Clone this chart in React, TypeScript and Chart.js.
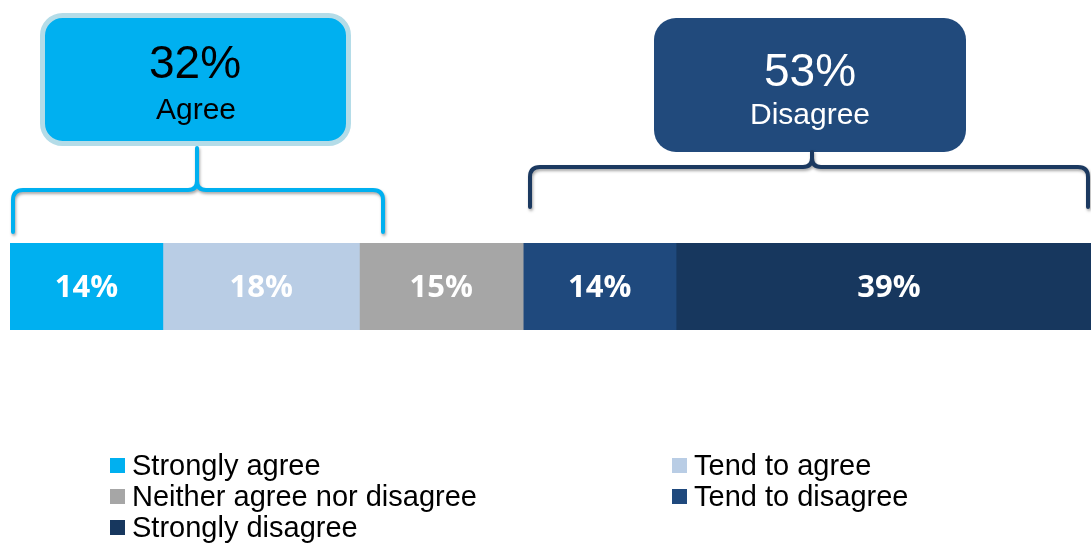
import React, { useEffect, useRef } from "react";
import { Chart, registerables } from "chart.js";

Chart.register(...registerables);

const categories = ["All respondents"];
const seriesLabels = [
  "Strongly agree",
  "Tend to agree",
  "Neither agree nor disagree",
  "Tend to disagree",
  "Strongly disagree",
];
const seriesValues = [14, 18, 15, 14, 39];
const seriesColors = ["#00B0F0", "#B9CDE5", "#A6A6A6", "#1F497D", "#17375E"];
const agreeTotal = 32;
const disagreeTotal = 53;
const calloutLabels = ["Agree", "Disagree"];

function drawBrace(
  ctx: CanvasRenderingContext2D,
  x1: number,
  x2: number,
  xm: number,
  yEnd: number,
  yH: number,
  yPeak: number,
  color: string
) {
  const r = 10;
  const rm = 9;
  ctx.save();
  ctx.strokeStyle = color;
  ctx.lineWidth = 4;
  ctx.lineCap = "round";
  ctx.lineJoin = "round";
  ctx.shadowColor = "rgba(0,0,0,0.35)";
  ctx.shadowBlur = 3;
  ctx.shadowOffsetX = 1;
  ctx.shadowOffsetY = 2;
  ctx.beginPath();
  ctx.moveTo(x1, yEnd);
  ctx.lineTo(x1, yH + r);
  ctx.quadraticCurveTo(x1, yH, x1 + r, yH);
  ctx.lineTo(xm - rm, yH);
  ctx.quadraticCurveTo(xm, yH, xm, yH - rm);
  ctx.lineTo(xm, yPeak);
  ctx.moveTo(xm, yH - rm);
  ctx.quadraticCurveTo(xm, yH, xm + rm, yH);
  ctx.lineTo(x2 - r, yH);
  ctx.quadraticCurveTo(x2, yH, x2, yH + r);
  ctx.lineTo(x2, yEnd);
  ctx.stroke();
  ctx.restore();
}

const decorPlugin = {
  id: "decor",
  afterDraw(chart: any) {
    const ctx: CanvasRenderingContext2D = chart.ctx;
    // Bar value labels
    ctx.save();
    ctx.fillStyle = "#FFFFFF";
    ctx.font = "bold 31px 'Open Sans', sans-serif";
    ctx.textAlign = "center";
    ctx.textBaseline = "middle";
    chart.data.datasets.forEach((ds: any, i: number) => {
      const meta = chart.getDatasetMeta(i);
      meta.data.forEach((el: any, j: number) => {
        const cx = (el.x + el.base) / 2;
        ctx.fillText(ds.data[j] + "%", cx, el.y + 1.5);
      });
    });
    ctx.restore();

    // Agree callout box
    ctx.save();
    ctx.beginPath();
    (ctx as any).roundRect(42.5, 15.5, 306, 128, 20);
    ctx.fillStyle = "#00B0F0";
    ctx.fill();
    ctx.lineWidth = 5;
    ctx.strokeStyle = "#B4DCE8";
    ctx.stroke();
    ctx.fillStyle = "#000000";
    ctx.textAlign = "center";
    ctx.textBaseline = "alphabetic";
    ctx.font = "46px 'Liberation Sans', Arial, sans-serif";
    ctx.fillText(agreeTotal + "%", 195, 78);
    ctx.font = "30px 'Liberation Sans', Arial, sans-serif";
    ctx.fillText(calloutLabels[0], 196, 119);
    ctx.restore();

    // Disagree callout box
    ctx.save();
    ctx.beginPath();
    (ctx as any).roundRect(654, 18, 312, 134, 22);
    ctx.fillStyle = "#214A7C";
    ctx.fill();
    ctx.fillStyle = "#FFFFFF";
    ctx.textAlign = "center";
    ctx.textBaseline = "alphabetic";
    ctx.font = "46px 'Liberation Sans', Arial, sans-serif";
    ctx.fillText(disagreeTotal + "%", 810, 86);
    ctx.font = "30px 'Liberation Sans', Arial, sans-serif";
    ctx.fillText(calloutLabels[1], 810, 124);
    ctx.restore();

    // Braces
    drawBrace(ctx, 13, 383, 197, 232, 190, 148, "#00B0F0");
    drawBrace(ctx, 530, 1088, 812, 207, 167, 152, "#1B3960");

    // Legend
    ctx.save();
    ctx.font = "29px 'Liberation Sans', Arial, sans-serif";
    ctx.textAlign = "left";
    ctx.textBaseline = "alphabetic";
    const colX = [110, 672];
    const rowY = [458, 489, 520];
    seriesLabels.forEach((label, i) => {
      const c = i % 2;
      const r = Math.floor(i / 2);
      ctx.fillStyle = seriesColors[i];
      ctx.fillRect(colX[c], rowY[r], 15, 15);
      ctx.fillStyle = "#000000";
      ctx.fillText(label, colX[c] + 22, rowY[r] + 17);
    });
    ctx.restore();
  },
};

export default function App() {
  const canvasRef = useRef<HTMLCanvasElement | null>(null);

  useEffect(() => {
    if (!canvasRef.current) return;
    const chart = new Chart(canvasRef.current, {
      type: "bar",
      data: {
        labels: categories,
        datasets: seriesLabels.map((label, i) => ({
          label,
          data: [seriesValues[i]],
          backgroundColor: seriesColors[i],
          borderWidth: 0,
          categoryPercentage: 1,
          barPercentage: 1,
        })),
      },
      options: {
        indexAxis: "y",
        responsive: false,
        animation: false,
        devicePixelRatio: 1,
        layout: { padding: { left: 10, right: 0, top: 243, bottom: 213 } },
        plugins: {
          legend: { display: false },
          tooltip: { enabled: false },
          title: { display: false },
        },
        scales: {
          x: { stacked: true, display: false, min: 0, max: 99 },
          y: { stacked: true, display: false },
        },
      },
      plugins: [decorPlugin],
    });
    return () => chart.destroy();
  }, []);

  return (
    <div
      style={{
        position: "fixed",
        left: 0,
        top: 0,
        width: 1091,
        height: 543,
        background: "#FFFFFF",
        overflow: "hidden",
      }}
    >
      <canvas ref={canvasRef} width={1091} height={543} />
    </div>
  );
}
